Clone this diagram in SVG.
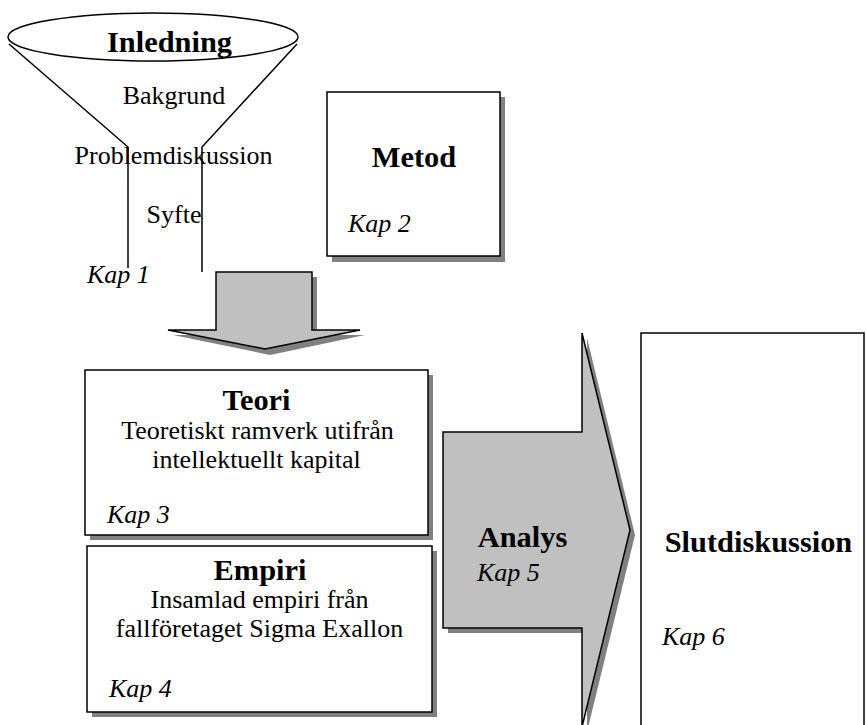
<svg xmlns="http://www.w3.org/2000/svg" width="866" height="725" viewBox="0 0 866 725">
<style>
text{font-family:"Liberation Serif","Times New Roman",serif;fill:#000}
.h{font-size:30.4px;font-weight:bold;text-anchor:middle}
.t{font-size:26px;text-anchor:middle}
.k{font-size:26px;font-style:italic}
.box{fill:#fff;stroke:#000;stroke-width:1.5}
.sh{fill:#808080;stroke:none}
.arr{fill:#c0c0c0;stroke:#000;stroke-width:1.5;stroke-linejoin:miter}
.ln{fill:none;stroke:#000;stroke-width:1.5}
</style>
<rect width="866" height="725" fill="#fff"/>
<g id="inledning">
  <ellipse class="ln" cx="153" cy="37" rx="145" ry="24"/>
  <polyline class="ln" points="9,44 128,147 128,268"/>
  <polyline class="ln" points="297,44 202,147 202,272"/>
  <text class="h" x="169.5" y="52">Inledning</text>
  <text class="t" x="174" y="104">Bakgrund</text>
  <text class="t" x="173.5" y="164">Problemdiskussion</text>
  <text class="t" x="174" y="223">Syfte</text>
  <text class="k" x="87" y="283">Kap 1</text>
</g>
<g id="metod">
  <rect class="sh" x="332" y="97" width="173" height="165"/>
  <rect class="box" x="327" y="92" width="173" height="164"/>
  <text class="h" x="414" y="167">Metod</text>
  <text class="k" x="348" y="232">Kap 2</text>
</g>
<g id="connectors">
  <path class="sh" d="M221,277 H317 V335 H365 L270,355 L173,335 H221 Z"/>
  <path class="arr" d="M216,272 H312 V330 H360 L265,349 L168,330 H216 Z"/>
</g>
<g id="teori">
  <rect class="sh" x="90" y="375" width="343" height="165"/>
  <rect class="box" x="85" y="370" width="343" height="165"/>
  <text class="h" x="256.5" y="410">Teori</text>
  <text class="t" x="257.5" y="439">Teoretiskt ramverk utifrån</text>
  <text class="t" x="256.5" y="468">intellektuellt kapital</text>
  <text class="k" x="107" y="523">Kap 3</text>
</g>
<g id="empiri">
  <rect class="sh" x="92" y="551" width="345" height="166"/>
  <rect class="box" x="87" y="546" width="345" height="166"/>
  <text class="h" x="260" y="580">Empiri</text>
  <text class="t" x="259.5" y="608">Insamlad empiri från</text>
  <text class="t" x="259.5" y="637">fallföretaget Sigma Exallon</text>
  <text class="k" x="109" y="697">Kap 4</text>
</g>
<g id="analys">
  <path class="sh" d="M448,437 H587 V338 L635,535 L587,732 V633 H448 Z"/>
  <path class="arr" d="M443,432 H582 V333 L630,530 L582,727 V628 H443 Z"/>
  <text class="h" x="522.5" y="547">Analys</text>
  <text class="k" x="477" y="581">Kap 5</text>
</g>
<g id="slutdiskussion">
  <rect class="box" x="641" y="333" width="223" height="420"/>
  <text class="h" x="758.5" y="552">Slutdiskussion</text>
  <text class="k" x="662" y="645">Kap 6</text>
</g>
</svg>
